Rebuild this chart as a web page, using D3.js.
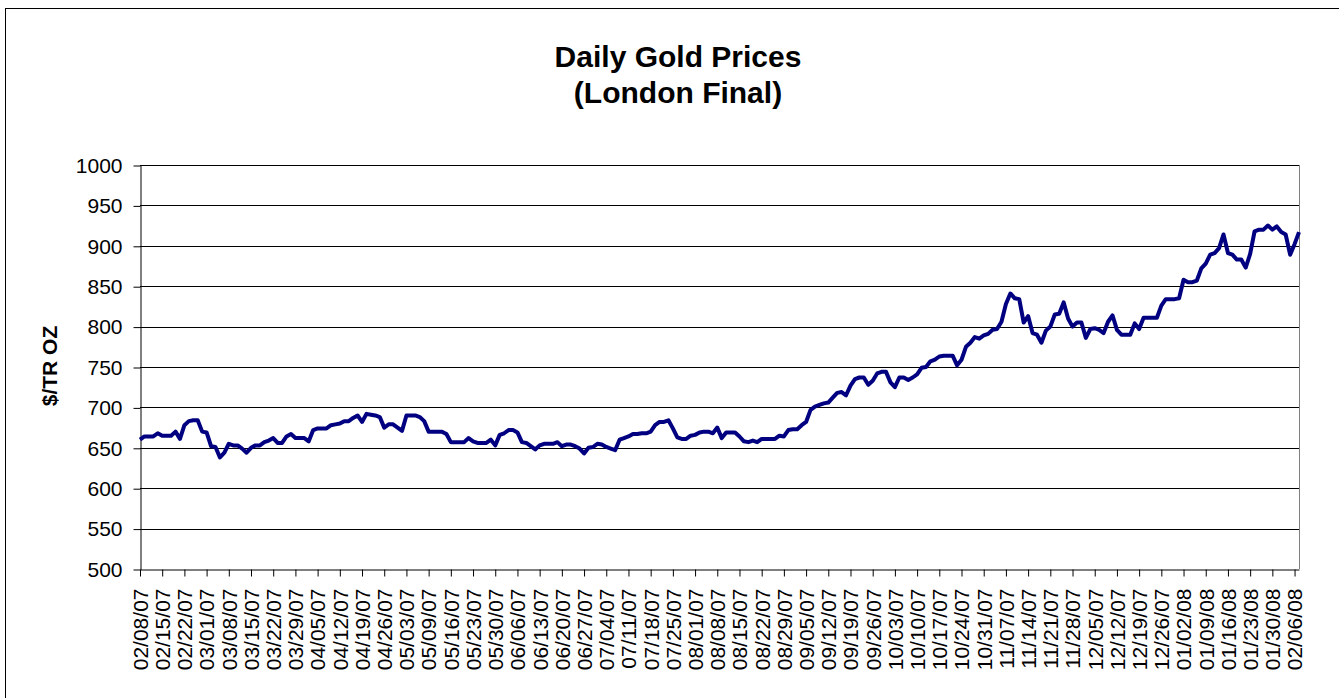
<!DOCTYPE html>
<html>
<head>
<meta charset="utf-8">
<script src="https://cdn.jsdelivr.net/npm/d3@7"></script>
<style>
  body { margin: 0; background: #fff; }
  text { font-family: "Liberation Sans", Arial, sans-serif; fill: #000; }
</style>
</head>
<body>
<div id="chart"></div>
<script>
// Weekly category labels (every 5th trading day)
var tickLabels = ["02/08/07","02/15/07","02/22/07","03/01/07","03/08/07","03/15/07","03/22/07","03/29/07",
  "04/05/07","04/12/07","04/19/07","04/26/07","05/03/07","05/09/07","05/16/07","05/23/07","05/30/07",
  "06/06/07","06/13/07","06/20/07","06/27/07","07/04/07","07/11/07","07/18/07","07/25/07","08/01/07",
  "08/08/07","08/15/07","08/22/07","08/29/07","09/05/07","09/12/07","09/19/07","09/26/07","10/03/07",
  "10/10/07","10/17/07","10/24/07","10/31/07","11/07/07","11/14/07","11/21/07","11/28/07","12/05/07",
  "12/12/07","12/19/07","12/26/07","01/02/08","01/09/08","01/16/08","01/23/08","01/30/08","02/06/08"];

// Daily London final price, $/troy oz
var prices = [
  660,664,664,664,668,665,665,665,670,661,
  678,683,684,684,670,669,652,651,638,644,
  655,653,653,649,644,650,653,653,657,659,
  662,656,656,664,667,662,662,662,658,672,
  674,674,674,678,679,680,683,683,687,690,
  682,692,691,690,688,675,679,679,675,671,
  690,690,690,688,683,670,670,670,670,667,
  657,657,657,657,662,658,656,656,656,660,
  653,666,668,672,672,669,657,656,652,648,
  653,655,655,655,657,652,654,654,652,649,
  643,650,651,655,654,651,649,647,660,662,
  664,667,667,668,668,670,678,682,682,684,
  674,663,661,661,665,666,669,670,670,668,
  675,662,669,669,669,664,658,657,659,657,
  661,661,661,661,665,664,672,673,673,678,
  682,697,701,703,705,706,712,718,719,715,
  727,735,737,737,728,733,742,744,744,731,
  725,737,737,734,737,741,749,750,757,759,
  763,764,764,764,752,759,775,780,787,785,
  789,791,796,797,806,828,841,835,834,805,
  813,792,790,780,795,800,815,816,830,810,
  800,805,805,786,797,798,796,792,806,814,
  796,790,790,790,804,797,811,811,811,811,
  826,834,834,834,835,858,855,855,857,872,
  878,889,891,897,914,891,889,883,883,873,
  890,918,920,920,925,920,924,917,914,889,
  902,917
];

var yTicks = [500, 550, 600, 650, 700, 750, 800, 850, 900, 950, 1000];

var W = 1339, H = 698;
var plot = {left: 140, right: 1299, top: 165, bottom: 569};

var svg = d3.select("#chart").append("svg")
  .attr("width", W)
  .attr("height", H);

// Outer chart frame
svg.append("rect")
  .attr("x", 5.5).attr("y", 8.5)
  .attr("width", W).attr("height", H)
  .attr("fill", "none")
  .attr("stroke", "#000")
  .attr("stroke-width", 1);

// Scales
var x = d3.scaleLinear()
  .domain([0, prices.length - 1])
  .range([plot.left, plot.right]);

var y = d3.scaleLinear()
  .domain([500, 1000])
  .range([plot.bottom, plot.top]);

// Horizontal gridlines
svg.append("g")
  .selectAll("line")
  .data(yTicks.slice(1))
  .enter().append("line")
    .attr("x1", plot.left).attr("x2", plot.right)
    .attr("y1", function(d) { return Math.round(y(d)) + 0.5; })
    .attr("y2", function(d) { return Math.round(y(d)) + 0.5; })
    .attr("stroke", "#000")
    .attr("stroke-width", 1);

// Right edge of plot area
svg.append("line")
  .attr("x1", plot.right + 0.5).attr("x2", plot.right + 0.5)
  .attr("y1", plot.top).attr("y2", plot.bottom)
  .attr("stroke", "#808080");

// Y axis
var yAxis = svg.append("g")
  .attr("transform", "translate(" + (plot.left + 0.5) + ",0.5)")
  .call(d3.axisLeft(y).tickValues(yTicks).tickFormat(d3.format("d"))
    .tickSize(7).tickSizeOuter(0).tickPadding(11));
yAxis.selectAll("text").style("font-size", "21px");
yAxis.selectAll("path, line").attr("stroke", "#000");

// X axis
var xAxis = svg.append("g")
  .attr("transform", "translate(0," + (plot.bottom + 0.5) + ")")
  .call(d3.axisBottom(x)
    .tickValues(d3.range(0, prices.length - 1, 5))
    .tickFormat(function(d, i) { return tickLabels[i]; })
    .tickSize(7).tickSizeOuter(0));
xAxis.selectAll("path, line").attr("stroke", "#000");
xAxis.selectAll("text")
  .style("font-size", "21px")
  .style("text-anchor", "end")
  .attr("transform", "rotate(-90)")
  .attr("x", -19)
  .attr("y", 0)
  .attr("dy", "0.35em");

// Price line
var line = d3.line()
  .x(function(d, i) { return x(i); })
  .y(function(d) { return y(d); });

svg.append("path")
  .datum(prices)
  .attr("d", line)
  .attr("fill", "none")
  .attr("stroke", "#000080")
  .attr("stroke-width", 4)
  .attr("stroke-linejoin", "round");

// Title
svg.append("text")
  .attr("x", 678).attr("y", 67)
  .style("text-anchor", "middle")
  .style("font-weight", "bold")
  .style("font-size", "30px")
  .text("Daily Gold Prices");
svg.append("text")
  .attr("x", 678).attr("y", 103)
  .style("text-anchor", "middle")
  .style("font-weight", "bold")
  .style("font-size", "30px")
  .text("(London Final)");

// Y axis title
svg.append("text")
  .attr("transform", "translate(57,366) rotate(-90)")
  .style("text-anchor", "middle")
  .style("font-weight", "bold")
  .style("font-size", "21px")
  .text("$/TR OZ");
</script>
</body>
</html>
